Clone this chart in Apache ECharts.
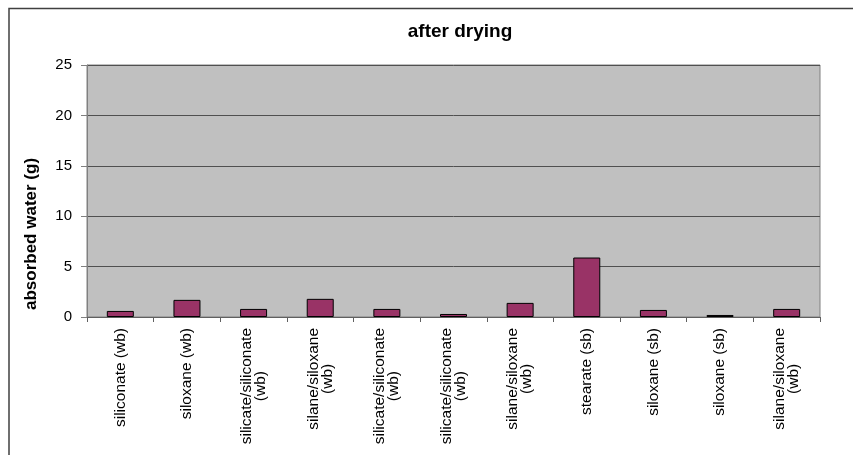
<!DOCTYPE html>
<html>
<head>
<meta charset="utf-8">
<script src="https://cdn.jsdelivr.net/npm/echarts@6/dist/echarts.min.js"></script>
<style>html,body{margin:0;padding:0;background:#fff;}#chart{width:853px;height:455px;}</style>
</head>
<body>
<div id="chart"></div>
<script>
const chartTitle = 'after drying';
const yAxisTitle = 'absorbed water (g)';
const categories = [
  'siliconate (wb)',
  'siloxane (wb)',
  'silicate/siliconate\n(wb)',
  'silane/siloxane\n(wb)',
  'silicate/siliconate\n(wb)',
  'silicate/siliconate\n(wb)',
  'silane/siloxane\n(wb)',
  'stearate (sb)',
  'siloxane (sb)',
  'siloxane (sb)',
  'silane/siloxane\n(wb)'
];
const values = [0.6, 1.7, 0.8, 1.8, 0.8, 0.3, 1.4, 5.9, 0.7, 0.2, 0.8];
const yMin = 0, yMax = 25, yStep = 5;

const FONT = '"Liberation Sans", Arial, sans-serif';
const chart = echarts.init(document.getElementById('chart'), null, {renderer: 'canvas'});
chart.setOption({
  animation: false,
  backgroundColor: '#ffffff',
  graphic: [
    {type: 'polyline', shape: {points: [[9, 460], [9, 8.5], [860, 8.5]]},
     style: {fill: null, stroke: '#404040', lineWidth: 1.5}, silent: true},
    {type: 'text', x: 460, y: 32,
     style: {text: chartTitle, font: 'bold 19px ' + FONT, fill: '#000', align: 'center', verticalAlign: 'middle'}},
    {type: 'text', x: 31, y: 234, rotation: Math.PI / 2,
     style: {text: yAxisTitle, font: 'bold 17px ' + FONT, fill: '#000', align: 'center', verticalAlign: 'middle'}}
  ],
  grid: {left: 87, right: 33, top: 65, bottom: 138, show: true,
         backgroundColor: '#C0C0C0', borderColor: '#808080', borderWidth: 1, containLabel: false},
  xAxis: {
    type: 'category', data: categories, boundaryGap: true,
    axisLine: {show: true, lineStyle: {color: '#606060', width: 1}},
    axisTick: {show: true, interval: 0, length: 5, lineStyle: {color: '#606060'}},
    axisLabel: {
      interval: 0, rotate: 90, margin: 11, color: '#000',
      fontFamily: FONT, fontSize: 15.5, lineHeight: 14,
      formatter: function (v) {
        return v.split('\n').map(function (s) { return '{c|' + s + '}'; }).join('\n');
      },
      rich: {c: {align: 'center', fontFamily: FONT, fontSize: 15.5, lineHeight: 14, color: '#000'}}
    }
  },
  yAxis: {
    type: 'value', min: yMin, max: yMax, interval: yStep,
    axisLine: {show: true, lineStyle: {color: '#808080'}},
    axisTick: {show: true, length: 6, lineStyle: {color: '#808080'}},
    axisLabel: {margin: 15, color: '#000', fontFamily: FONT, fontSize: 15},
    splitLine: {show: true, lineStyle: {color: '#505050', width: 1}}
  },
  series: [{
    type: 'bar', data: values, barWidth: 27,
    itemStyle: {color: '#993366', borderColor: '#000', borderWidth: 1}
  }]
});
</script>
</body>
</html>
